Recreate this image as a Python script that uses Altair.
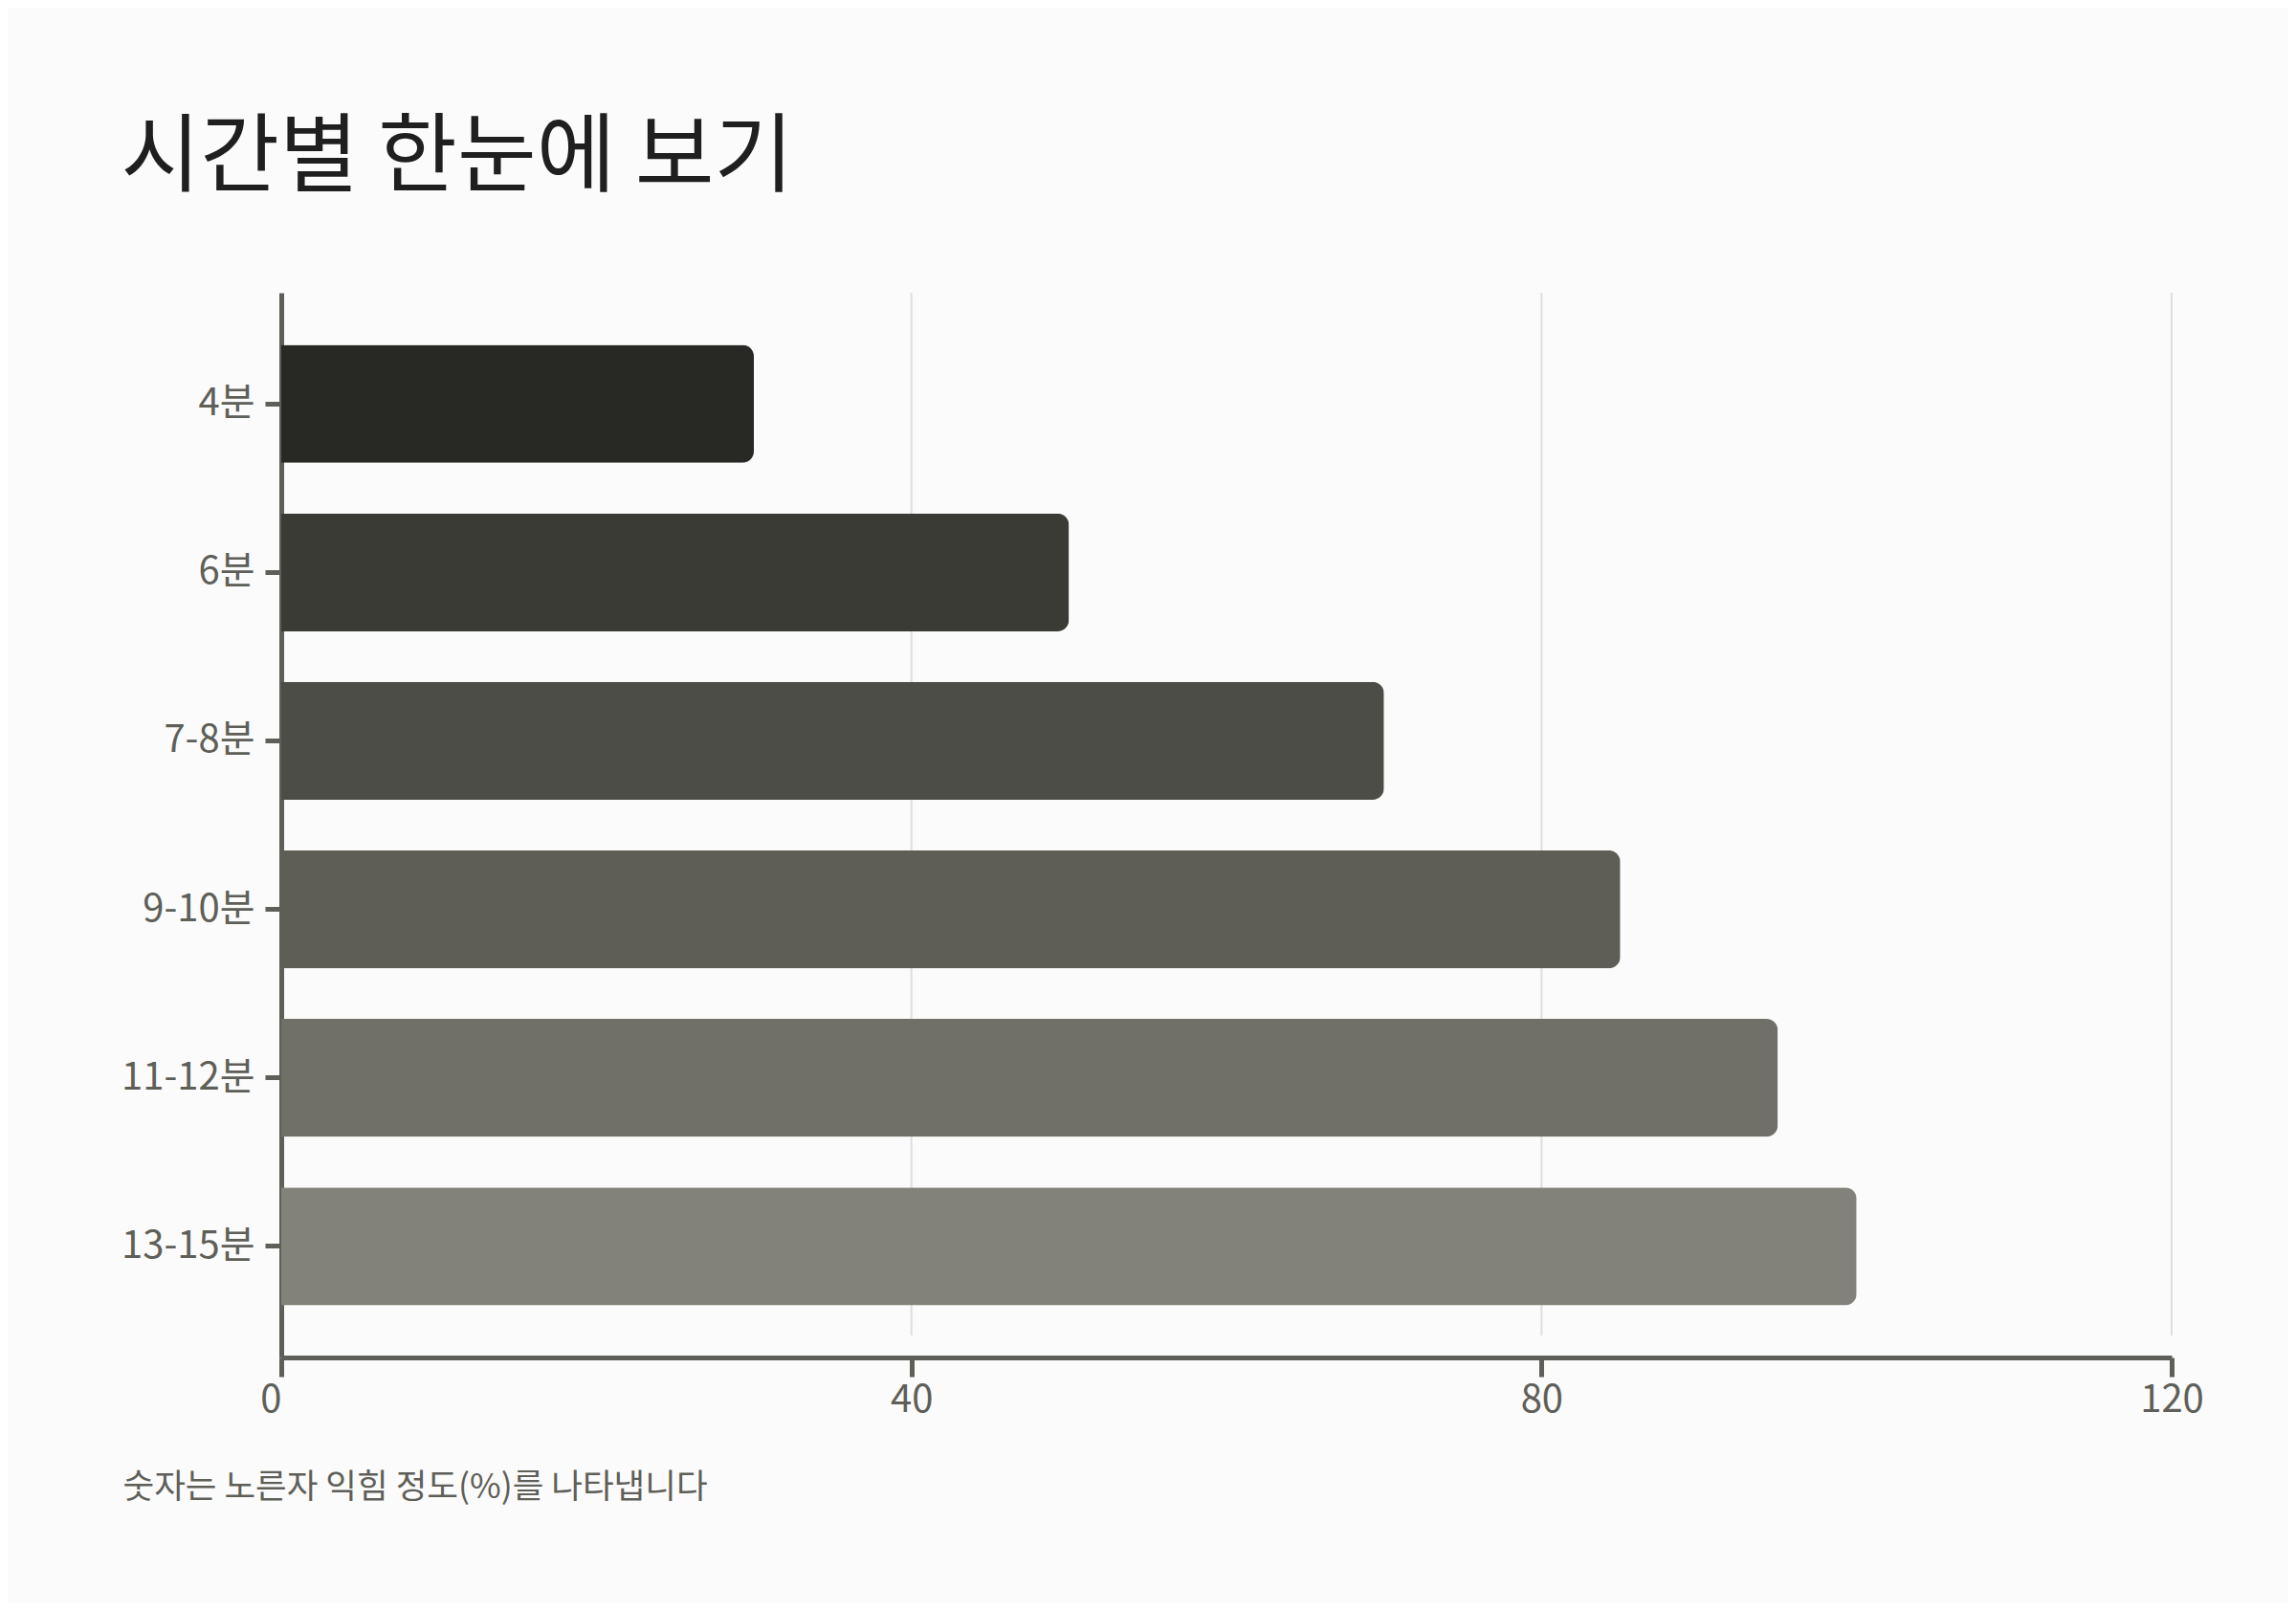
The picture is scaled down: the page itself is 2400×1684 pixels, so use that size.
import altair as alt
import pandas as pd

categories = ["4분", "6분", "7-8분", "9-10분", "11-12분", "13-15분"]
values = [30, 50, 70, 85, 95, 100]
bar_colors = ["#282925", "#3b3b36", "#4c4d47", "#5e5e56", "#707068", "#83827a"]
x_ticks = [0, 40, 80, 120]
grid_ticks = [40, 80, 120]
title_text = "시간별 한눈에 보기"
note_text = "숫자는 노른자 익힘 정도(%)를 나타냅니다"

df = pd.DataFrame({"time": categories, "value": values})
grid_df = pd.DataFrame({"g": grid_ticks})

FONT = "Noto Sans CJK KR"
AXIS = "#5f5f59"
BG = "#fbfbfb"

x_scale = alt.Scale(domain=[0, 120], nice=False, zero=True)

x_axis = alt.Axis(
    values=x_ticks,
    grid=False,
    domainColor=AXIS,
    domainWidth=5,
    tickColor=AXIS,
    tickWidth=5,
    tickSize=20,
    labelFont=FONT,
    labelFontSize=40,
    labelColor=AXIS,
    labelPadding=4,
    labelFlush=False,
    labelAlign={"condition": {"test": "datum.value == 0", "value": "right"}, "value": "center"},
    title=note_text,
    titleFont=FONT,
    titleFontSize=35.5,
    titleColor=AXIS,
    titleFontWeight="normal",
    titleX=-166,
    titleY=118,
    titleAlign="left",
    titleBaseline="top",
)

grid = alt.Chart(grid_df).mark_rule(color="#dedede", strokeWidth=2).encode(
    x=alt.X("g:Q", scale=x_scale, axis=x_axis),
    y=alt.value(0),
    y2=alt.value(1090),
)

bars = alt.Chart(df).mark_bar(cornerRadiusEnd=12).encode(
    x=alt.X("value:Q", scale=x_scale, axis=x_axis),
    y=alt.Y(
        "time:N",
        sort=categories,
        scale=alt.Scale(paddingInner=0.3, paddingOuter=0.31),
        axis=alt.Axis(
            title=None,
            domainColor=AXIS,
            domainWidth=5,
            tickColor=AXIS,
            tickWidth=5,
            tickSize=17,
            labelFont=FONT,
            labelFontSize=40,
            labelColor=AXIS,
            labelPadding=11,
            grid=False,
        ),
    ),
    color=alt.Color(
        "time:N",
        sort=categories,
        scale=alt.Scale(domain=categories, range=bar_colors),
        legend=None,
    ),
)

chart = alt.layer(grid, bars).properties(
    width=1976,
    height=1113,
    title=alt.TitleParams(
        title_text,
        anchor="start",
        frame="bounds",
        font=FONT,
        fontSize=90,
        fontWeight="normal",
        color="#1f1f1f",
        baseline="alphabetic",
        offset=22,
    ),
    background=BG,
    padding={"left": 286, "top": 298, "right": 122, "bottom": 257},
    autosize="none",
).configure_view(stroke=None)

chart.save("out.html", embed_options={"renderer": "svg", "actions": False})
